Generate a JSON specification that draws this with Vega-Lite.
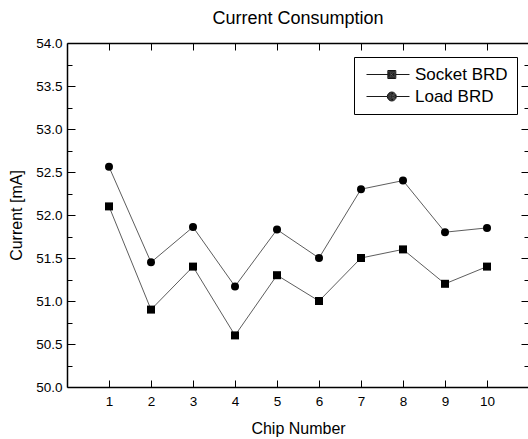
{
  "$schema": "https://vega.github.io/schema/vega-lite/v6.json",
  "autosize": "none",
  "width": 462,
  "height": 344,
  "padding": {"left": 67, "top": 43, "right": 0, "bottom": 52},
  "background": "white",
  "config": {
    "view": {"stroke": null},
    "font": "Liberation Sans",
    "axis": {"grid": false, "domainColor": "black", "domainWidth": 1.5, "tickColor": "black", "tickWidth": 1, "labelColor": "black", "titleColor": "black", "labelFont": "Liberation Sans", "titleFont": "Liberation Sans", "labelFontSize": 13.5, "titleFontSize": 16, "titleFontWeight": "normal", "labelOverlap": false, "labelFlush": false}
  },
  "title": {"text": "Current Consumption", "fontSize": 18, "fontWeight": "normal", "font": "Liberation Sans", "color": "black", "anchor": "middle", "frame": "group", "offset": 8},
  "data": {"values": [
    {"chip": 1, "current": 52.1, "series": "Socket BRD"},
    {"chip": 2, "current": 50.9, "series": "Socket BRD"},
    {"chip": 3, "current": 51.4, "series": "Socket BRD"},
    {"chip": 4, "current": 50.6, "series": "Socket BRD"},
    {"chip": 5, "current": 51.3, "series": "Socket BRD"},
    {"chip": 6, "current": 51.0, "series": "Socket BRD"},
    {"chip": 7, "current": 51.5, "series": "Socket BRD"},
    {"chip": 8, "current": 51.6, "series": "Socket BRD"},
    {"chip": 9, "current": 51.2, "series": "Socket BRD"},
    {"chip": 10, "current": 51.4, "series": "Socket BRD"},
    {"chip": 1, "current": 52.56, "series": "Load BRD"},
    {"chip": 2, "current": 51.45, "series": "Load BRD"},
    {"chip": 3, "current": 51.86, "series": "Load BRD"},
    {"chip": 4, "current": 51.17, "series": "Load BRD"},
    {"chip": 5, "current": 51.83, "series": "Load BRD"},
    {"chip": 6, "current": 51.5, "series": "Load BRD"},
    {"chip": 7, "current": 52.3, "series": "Load BRD"},
    {"chip": 8, "current": 52.4, "series": "Load BRD"},
    {"chip": 9, "current": 51.8, "series": "Load BRD"},
    {"chip": 10, "current": 51.85, "series": "Load BRD"}
  ]},
  "resolve": {"axis": {"x": "independent", "y": "independent"}, "scale": {"shape": "independent"}, "legend": {"shape": "independent"}},
  "layer": [
    {
      "mark": {"type": "line", "color": "#333", "strokeWidth": 0.8},
      "encoding": {
        "x": {"field": "chip", "type": "quantitative", "scale": {"domain": [0, 11], "nice": false, "zero": false},
          "axis": {"orient": "bottom", "values": [1,2,3,4,5,6,7,8,9,10], "tickSize": -7, "labelPadding": 14, "title": "Chip Number", "titlePadding": 13}},
        "y": {"field": "current", "type": "quantitative", "scale": {"domain": [50, 54], "nice": false, "zero": false},
          "axis": {"orient": "left", "values": [50,50.25,50.5,50.75,51,51.25,51.5,51.75,52,52.25,52.5,52.75,53,53.25,53.5,53.75,54],
            "labelExpr": "datum.value % 0.5 === 0 ? format(datum.value, '.1f') : ''",
            "tickSize": {"condition": {"test": "datum.value % 0.5 === 0", "value": -8}, "value": -5},
            "labelPadding": 13, "title": "Current [mA]", "titlePadding": 11}},
        "detail": {"field": "series"}
      }
    },
    {
      "mark": {"type": "point", "filled": true, "color": "black", "opacity": 1},
      "encoding": {
        "x": {"field": "chip", "type": "quantitative", "axis": {"orient": "top", "values": [1,2,3,4,5,6,7,8,9,10], "tickSize": -7, "labels": false, "title": null}},
        "y": {"field": "current", "type": "quantitative", "axis": {"orient": "right", "values": [50,50.25,50.5,50.75,51,51.25,51.5,51.75,52,52.25,52.5,52.75,53,53.25,53.5,53.75,54],
            "tickSize": {"condition": {"test": "datum.value % 0.5 === 0", "value": -8}, "value": -5}, "labels": false, "title": null}},
        "shape": {"field": "series", "type": "nominal",
          "scale": {"domain": ["Socket BRD", "Load BRD"], "range": ["square", "circle"]},
          "legend": null},
        "size": {"value": 64}
      }
    },
    {
      "mark": {"type": "point", "filled": false, "color": "black", "strokeWidth": 0.8, "opacity": 0, "size": 100},
      "encoding": {
        "x": {"field": "chip", "type": "quantitative", "axis": null},
        "y": {"field": "current", "type": "quantitative", "axis": null},
        "shape": {"field": "series", "type": "nominal",
          "scale": {"domain": ["Socket BRD", "Load BRD"], "range": [
            "M-1,0H3.26M4.86,0H7.6M3.26,-0.8H4.86V0.8H3.26ZM3.42,-0.64H4.7V0.64H3.42ZM3.58,-0.48H4.54V0.48H3.58ZM3.74,-0.32H4.38V0.32H3.74ZM3.9,-0.16H4.22V0.16H3.9Z",
            "M-1,0H3.16M4.96,0H7.6M3.16,0A0.9,0.9 0 1,0 4.96,0A0.9,0.9 0 1,0 3.16,0M3.3,0A0.76,0.76 0 1,0 4.82,0A0.76,0.76 0 1,0 3.3,0M3.44,0A0.62,0.62 0 1,0 4.68,0A0.62,0.62 0 1,0 3.44,0M3.58,0A0.48,0.48 0 1,0 4.54,0A0.48,0.48 0 1,0 3.58,0M3.72,0A0.34,0.34 0 1,0 4.4,0A0.34,0.34 0 1,0 3.72,0M3.86,0A0.2,0.2 0 1,0 4.26,0A0.2,0.2 0 1,0 3.86,0M3.98,0A0.08,0.08 0 1,0 4.14,0A0.08,0.08 0 1,0 3.98,0"]},
          "legend": {"title": null, "orient": "none", "legendX": 287, "legendY": 14,
            "strokeColor": "black", "fillColor": "white", "padding": 9, "cornerRadius": 0,
            "symbolSize": 100, "symbolOpacity": 1, "symbolStrokeColor": "black", "symbolStrokeWidth": 0.9,
            "labelFontSize": 17, "labelFont": "Liberation Sans", "labelColor": "black", "labelOffset": 35, "rowPadding": 4}
        }
      }
    }
  ]
}
